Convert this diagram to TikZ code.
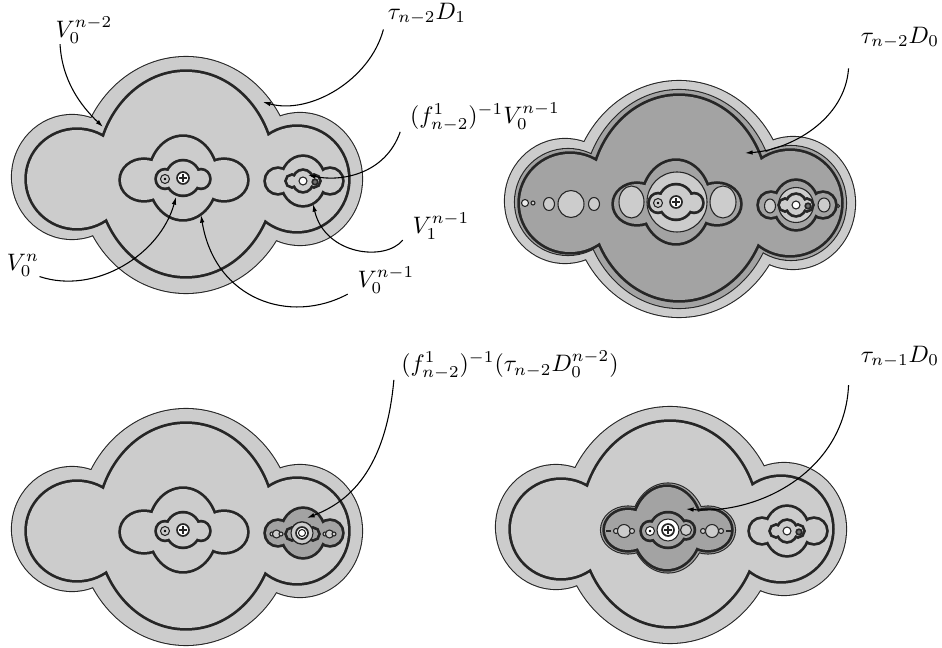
\documentclass[tikz,border=0pt]{standalone}
\usepackage{amsmath,amssymb}
\usepackage{xcolor}
\usepackage{tikz}
\usetikzlibrary{arrows.meta,positioning}
\definecolor{lightshade}{gray}{0.8}
\definecolor{darkshade}{gray}{0.64}
\newcommand{\cloud}[7][]{%
  \draw[#1] #2 ellipse (#3) #4 ellipse (#5) #6 ellipse (#7);
  \path[#1,draw=none] #2 ellipse (#3) #4 ellipse (#5) #6 ellipse (#7);}
\newcommand{\outercloud}[1][thinlight]{\cloud[#1]{(186,175)}{108 and 118}{(72,177)}{60 and 62}{(300,179)}{62 and 66}}
\newcommand{\innercloud}[1][fatlight]{\cloud[#1]{(186,174)}{88 and 102}{(77,179)}{50 and 49}{(297,179)}{51 and 52}}
\newcommand{\midcloud}[1][fatlight]{\cloud[#1]{(183,178)}{33.5 and 41}{(144,180)}{23 and 20}{(224,180)}{23 and 20}}
\newcommand{\sidecloud}[1][fatlight]{\cloud[#1]{(303,181)}{21 and 24}{(278,181)}{12 and 12}{(330,181)}{12 and 12}}
\newcommand{\plusmark}[1]{%
  \draw[midline,fill=white] #1 circle (6);
  \draw[thinline] #1 ++(-4,0) -- ++(8,0) #1 ++(0,-4) -- ++(0,8);}
\newcommand{\smallmid}{%
  \cloud[fatlight]{(183,178)}{16 and 16.5}{(165,179)}{8 and 8.5}{(201,179)}{8 and 8.5}
  \draw[thinline] (165,179) circle (4.5);
  \fill (165,179) circle (1.3);
  \plusmark{(183,178)}}
\newcommand{\smallside}{%
  \cloud[fatlight]{(303,181)}{9 and 10}{(292,181)}{5 and 5}{(314,181)}{5 and 5}
  \draw[thinline,fill=white] (303,181) circle (4);
  \draw[midline,fill=black!55] (315,182) circle (2.8);}
\begin{document}
\begin{tikzpicture}[x=0.42pt,y=-0.42pt,
  thinline/.style={line width=0.45pt,black!85},
  midline/.style={line width=0.7pt,black!85},
  thinlight/.style={line width=0.9pt,draw=black!85,fill=lightshade},
  thindark/.style={line width=0.9pt,draw=black!85,fill=darkshade},
  fatlight/.style={line width=2.3pt,draw=black!85,fill=lightshade},
  fatdark/.style={line width=2.3pt,draw=black!85,fill=darkshade},
  hole/.style={thinline,fill=lightshade},
  lab/.style={inner sep=0pt},
  arr/.style={-{Latex[length=3.2pt,width=1.9pt]},line width=0.45pt,black}]
\useasboundingbox (0,0) rectangle (942,648);
\outercloud
\innercloud
\midcloud
\sidecloud
\smallmid
\smallside
\begin{scope}[shift={(493,24)}]
  \outercloud
  \cloud[thindark]{(186,175)}{96 and 109}{(75,178)}{53 and 53}{(298,179)}{55 and 57}
  \innercloud[fatdark]
  \midcloud[fatdark]
  \sidecloud[fatdark]
  \draw[hole] (184,178) circle (30);
  \draw[hole] (138.5,178) ellipse (12.5 and 16);
  \draw[hole] (230,178) ellipse (13 and 16);
  \smallmid
  \draw[hole] (78,180) ellipse (13 and 13.5);
  \draw[hole] (56,180) ellipse (5.5 and 6.5);
  \draw[hole] (101,180) ellipse (5.5 and 6.5);
  \draw[thinline,fill=white!60!lightshade] (32,179) circle (3.5);
  \draw[hole] (40,179) circle (2);
  \draw[hole] (277,182) ellipse (5.5 and 7);
  \draw[hole] (331,181) ellipse (6 and 7);
  \draw[hole] (303,181) circle (17.5);
  \draw[hole] (345,182) circle (1.5);
  \smallside
\end{scope}
\begin{scope}[shift={(0,352)}]
  \outercloud
  \innercloud
  \midcloud
  \smallmid
  \sidecloud[fatdark]
  \draw[hole] (272,182) circle (2);
  \draw[hole] (276.5,182) circle (4);
  \draw[hole] (281,182) circle (2);
  \draw[hole] (325,182) circle (2);
  \draw[hole] (329.5,182) circle (4);
  \draw[hole] (334,182) circle (2);
  \cloud[fatdark]{(302,181)}{9 and 9}{(292,182)}{5 and 5}{(313,182)}{5 and 5}
  \draw[hole] (302,181) circle (11);
  \draw[midline,fill=white] (302,181) circle (6);
  \draw[thinline,fill=white] (302,181) circle (3.5);
\end{scope}
\begin{scope}[shift={(484,350)}]
  \outercloud
  \innercloud
  \sidecloud
  \smallside
  \cloud[thindark]{(184,178)}{37 and 44.5}{(144,180)}{27 and 23.5}{(224,180)}{27 and 23.5}
  \midcloud[fatdark]
  \draw[hole] (132,181) circle (2.5);
  \draw[hole] (140,181) circle (6.5);
  \draw[hole] (148,181) circle (2.5);
  \draw[hole] (219,181) circle (2.5);
  \draw[hole] (228,181) circle (6.5);
  \draw[hole] (237,181) circle (2.5);
  \draw[thinline] (122,181) -- (127,181) (242,181) -- (247,181);
  \cloud[fatdark]{(184,180)}{17 and 16.5}{(166,181)}{8 and 8.5}{(202,180)}{7.5 and 8}
  \draw[hole] (202,180) circle (5.5);
  \draw[thinline,fill=white] (166,181) circle (4.5);
  \fill (166,181) circle (1.3);
  \draw[hole,fill=white] (184,180) circle (11);
  \plusmark{(184,180)}
\end{scope}
\node[lab] (vtwo) at (84,30) {$V_0^{n-2}$};
\node[lab] (taua) at (427,14) {$\tau_{n-2}D_1$};
\node[lab] (finv) at (485,117) {$(f_{n-2}^1)^{-1}V_0^{n-1}$};
\node[lab] (vone) at (441,226) {$V_1^{n-1}$};
\node[lab] (vzero) at (386,280) {$V_0^{n-1}$};
\node[lab] (vn) at (23,265) {$V_0^n$};
\node[lab] (taub) at (900,38) {$\tau_{n-2}D_0$};
\node[lab] (tauc) at (900,357) {$\tau_{n-1}D_0$};
\node[lab] (fimg) at (510,365) {$(f_{n-2}^1)^{-1}(\tau_{n-2}D_0^{n-2})$};
\coordinate (endvtwo) at (103,127);
\coordinate (endtaua) at (263,102);
\coordinate (endfinv) at (308,175);
\coordinate (endvone) at (313,204);
\coordinate (endvzero) at (201,215);
\coordinate (endvn) at (176,197);
\coordinate (endtaub) at (745,153);
\coordinate (endtauc) at (686,509);
\coordinate (endfimg) at (307,518);
\draw[arr] ([xshift=2pt]vtwo.south west) .. controls (62,80) and (80,105) .. (endvtwo);
\draw[arr] ([xshift=-1.7pt,yshift=-1.7pt]taua.south west) .. controls (370,80) and (310,115) .. (endtaua);
\draw[arr] ([xshift=-4pt]finv.south west) .. controls (385,175) and (340,182) .. (endfinv);
\draw[arr] ([xshift=-4pt]vone.south west) .. controls (385,262) and (325,255) .. (endvone);
\draw[arr] ([xshift=-4pt]vzero.south west) .. controls (290,325) and (215,300) .. (endvzero);
\draw[arr] (vn.south east) .. controls (95,295) and (160,255) .. (endvn);
\draw[arr] ([xshift=-5pt,yshift=-8pt]taub.south west) .. controls (845,120) and (790,150) .. (endtaub);
\draw[arr] ([xshift=-5pt,yshift=-7pt]tauc.south west) .. controls (845,470) and (760,515) .. (endtauc);
\draw[arr] ([xshift=-3pt]fimg.south west) .. controls (385,480) and (340,505) .. (endfimg);
\end{tikzpicture}
\end{document}
